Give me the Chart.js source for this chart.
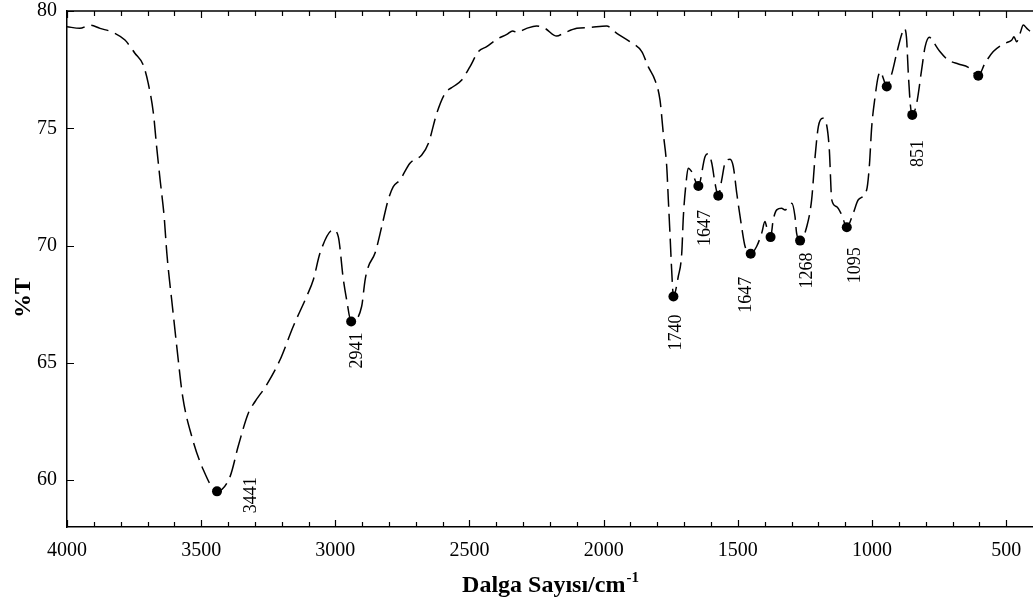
<!DOCTYPE html>
<html>
<head>
<meta charset="utf-8">
<script src="https://cdn.jsdelivr.net/npm/chart.js@4.4.0/dist/chart.umd.min.js"></script>
<style>
  html, body { margin: 0; padding: 0; background: #fff; overflow: hidden; }
  #wrap { width: 1033px; height: 603px; position: relative; }
</style>
</head>
<body>
<div id="wrap"><canvas id="irChart"></canvas></div>
<script>
// FTIR spectrum
const waveNumbers = [4000, 3952, 3914, 3877, 3829, 3784, 3747, 3716, 3697, 3678, 3666, 3653, 3638, 3628, 3616, 3610, 3591, 3569, 3535, 3492,
  3441, 3392, 3362, 3324, 3299, 3256, 3206, 3157, 3107, 3082, 3057, 3008, 2989, 2970, 2958, 2941, 2902, 2889, 2877, 2852,
  2827, 2803, 2784, 2759, 2722, 2678, 2653, 2622, 2591, 2560, 2529, 2498, 2467, 2436, 2399, 2361, 2339, 2324, 2287, 2250,
  2219, 2175, 2150, 2100, 2051, 1989, 1951, 1902, 1858, 1834, 1809, 1790, 1778, 1765, 1759, 1753, 1746, 1740, 1722, 1709,
  1703, 1693, 1685, 1672, 1647, 1622, 1610, 1597, 1585, 1573, 1560, 1548, 1529, 1517, 1504, 1486, 1473, 1452, 1430, 1411,
  1399, 1390, 1378, 1368, 1355, 1337, 1324, 1299, 1287, 1281, 1268, 1243, 1225, 1212, 1200, 1184, 1169, 1159, 1150, 1132,
  1113, 1094, 1070, 1051, 1020, 1010, 1001, 989, 977, 967, 960, 945, 927, 908, 889, 880, 871, 865, 857, 850,
  833, 815, 802, 786, 772, 747, 716, 678, 641, 604, 579, 548, 517, 498, 479, 471, 461, 448, 436, 423, 405, 400];
const transmittance = [79.33, 79.26, 79.40, 79.26, 79.09, 78.76, 78.20, 77.70, 76.90, 75.64, 74.22, 72.80, 71.24, 69.68, 68.30, 67.70, 65.70, 63.57, 61.86, 60.44,
  59.52, 60.16, 61.44, 62.86, 63.35, 64.06, 65.13, 66.55, 67.83, 68.54, 69.68, 70.67, 70.38, 68.54, 67.70, 66.76, 67.40, 68.54, 69.10, 69.68,
  70.81, 71.95, 72.51, 72.80, 73.51, 73.86, 74.36, 75.64, 76.49, 76.78, 77.06, 77.63, 78.27, 78.48, 78.79, 79.00, 79.15, 79.09, 79.26, 79.36,
  79.26, 78.93, 79.05, 79.26, 79.30, 79.36, 79.05, 78.69, 78.27, 77.63, 77.06, 76.20, 74.80, 73.37, 71.95, 70.53, 68.82, 67.83, 68.68, 69.68,
  71.24, 72.66, 73.30, 73.15, 72.54, 73.80, 73.91, 73.51, 72.66, 72.12, 72.80, 73.51, 73.68, 73.37, 72.23, 70.81, 69.96, 69.65, 69.96, 70.53,
  71.02, 70.67, 70.36, 71.10, 71.52, 71.59, 71.52, 71.80, 71.24, 70.53, 70.21, 70.81, 71.95, 73.80, 75.07, 75.43, 75.14, 74.08, 71.95, 71.66,
  71.31, 70.78, 71.38, 71.95, 72.37, 73.37, 75.07, 76.30, 77.20, 77.41, 77.20, 76.78, 77.30, 78.20, 79.02, 79.26, 78.80, 77.40, 76.00, 75.57,
  76.10, 77.50, 78.48, 78.88, 78.69, 78.27, 77.91, 77.74, 77.60, 77.24, 77.77, 78.27, 78.55, 78.65, 78.76, 78.90, 78.69, 79.05, 79.40, 79.26, 79.12, 79.20];

// marked peaks (wave numbers that carry a dot) and their printed labels
const peakWave = [3441, 2941, 1740, 1647, 1573, 1452, 1378, 1268, 1094, 945, 850, 604];
const peakLabels = ['3441', '2941', '1740', '1647', '', '1647', '', '1268', '1095', '', '851', ''];

// axis ticks
const xTickLabels = [4000, 3500, 3000, 2500, 2000, 1500, 1000, 500];
const yTickLabels = [60, 65, 70, 75, 80];

// label placement relative to its dot, px: [dx, gap below]
const labelNudge = [[34, -14], [6, 11], [3, 18], [7, 24], [0, 0], [-4, 23], [0, 0], [7, 12], [8, 20], [0, 0], [6, 25], [0, 0]];

const serif = '"Liberation Serif", "Times New Roman", serif';
Chart.defaults.font.family = serif;
Chart.defaults.color = '#000';

const spectrum = waveNumbers.map((w, i) => ({ x: w, y: transmittance[i] }));
const isPeak = i => peakWave.includes(waveNumbers[i]);

const decorPlugin = {
  id: 'decor',
  beforeDraw(chart) {
    const ctx = chart.ctx;
    ctx.save();
    ctx.fillStyle = '#fff';
    ctx.fillRect(0, 0, chart.width, chart.height);
    ctx.restore();
  },
  afterDraw(chart) {
    const { ctx, chartArea: a, scales: { x, y } } = chart;
    ctx.save();
    ctx.strokeStyle = '#000';

    // top frame line
    ctx.lineWidth = 1.5;
    ctx.beginPath();
    ctx.moveTo(a.left, a.top);
    ctx.lineTo(a.right, a.top);
    ctx.stroke();

    // inward tick marks, bottom and top
    ctx.lineWidth = 1.2;
    ctx.beginPath();
    for (let v = 500; v <= 4000; v += 100) {
      const px = Math.round(x.getPixelForValue(v)) + 0.5;
      const len = v % 500 === 0 ? 7 : 5;
      ctx.moveTo(px, a.bottom);
      ctx.lineTo(px, a.bottom - len);
      ctx.moveTo(px, a.top);
      ctx.lineTo(px, a.top + len);
    }
    yTickLabels.forEach(v => {
      const py = Math.round(y.getPixelForValue(v)) + 0.5;
      ctx.moveTo(a.left, py);
      ctx.lineTo(a.left + 7, py);
    });
    ctx.stroke();

    // peak labels, rotated
    ctx.fillStyle = '#000';
    ctx.font = '18px ' + serif;
    ctx.textAlign = 'right';
    ctx.textBaseline = 'middle';
    peakLabels.forEach((txt, i) => {
      if (!txt) return;
      const k = waveNumbers.indexOf(peakWave[i]);
      const px = x.getPixelForValue(peakWave[i]) + labelNudge[i][0];
      const py = y.getPixelForValue(transmittance[k]) + labelNudge[i][1];
      ctx.save();
      ctx.translate(px, py);
      ctx.rotate(-Math.PI / 2);
      ctx.fillText(txt, 0, 0);
      ctx.restore();
    });

    // axis titles
    ctx.textBaseline = 'alphabetic';
    ctx.textAlign = 'left';
    ctx.font = 'bold 24px ' + serif;
    const main = 'Dalga Sayısı/cm';
    const w1 = ctx.measureText(main).width;
    ctx.font = 'bold 15px ' + serif;
    const w2 = ctx.measureText('-1').width;
    const cx = (a.left + a.right) / 2;
    const sx = cx - (w1 + w2) / 2;
    ctx.font = 'bold 24px ' + serif;
    ctx.fillText(main, sx, 592);
    ctx.font = 'bold 15px ' + serif;
    ctx.fillText('-1', sx + w1 + 1, 582);

    ctx.save();
    ctx.translate(30, 298);
    ctx.rotate(-Math.PI / 2);
    ctx.font = 'bold 24px ' + serif;
    ctx.textAlign = 'center';
    ctx.fillText('%T', 0, 0);
    ctx.restore();

    ctx.restore();
  }
};

const noPad = s => { s.paddingLeft = 0; s.paddingRight = 0; s.paddingTop = 0; s.paddingBottom = 0; };

const ctx = document.getElementById('irChart').getContext('2d');
const irChart = new Chart(ctx, {
  type: 'line',
  data: {
    datasets: [{
      label: 'FTIR',
      data: spectrum,
      borderColor: '#000',
      borderWidth: 1.5,
      borderDash: [18, 7],
      cubicInterpolationMode: 'monotone',
      fill: false,
      // dots only on the marked peaks
      pointRadius: c => isPeak(c.dataIndex) ? 5 : 0,
      pointHoverRadius: 0,
      pointBorderWidth: 0,
      pointBackgroundColor: '#000',
      pointBorderColor: '#000'
    }]
  },
  options: {
    responsive: true,
    maintainAspectRatio: false,
    animation: false,
    devicePixelRatio: 1,
    layout: { padding: { top: 11, right: 0, left: 0, bottom: 0 } },
    plugins: {
      legend: { display: false },
      tooltip: { enabled: false }
    },
    scales: {
      x: {
        type: 'linear',
        reverse: true,
        min: 400,
        max: 4000,
        afterBuildTicks: s => { s.ticks = xTickLabels.map(v => ({ value: v })); },
        afterFit: s => { s.height = 76; noPad(s); },
        grid: { display: false, drawTicks: false },
        border: { display: true, color: '#000', width: 1.5 },
        ticks: { font: { size: 20 }, color: '#000', padding: 12, maxRotation: 0, autoSkip: false, callback: v => String(v) }
      },
      y: {
        min: 58,
        max: 80,
        afterBuildTicks: s => { s.ticks = yTickLabels.map(v => ({ value: v })); },
        afterFit: s => { s.width = 67; noPad(s); },
        grid: { display: false, drawTicks: false },
        border: { display: true, color: '#000', width: 1.5 },
        ticks: { font: { size: 20, lineHeight: 1 }, color: '#000', padding: 10, callback: v => String(v) }
      }
    }
  },
  plugins: [decorPlugin]
});
</script>
</body>
</html>
